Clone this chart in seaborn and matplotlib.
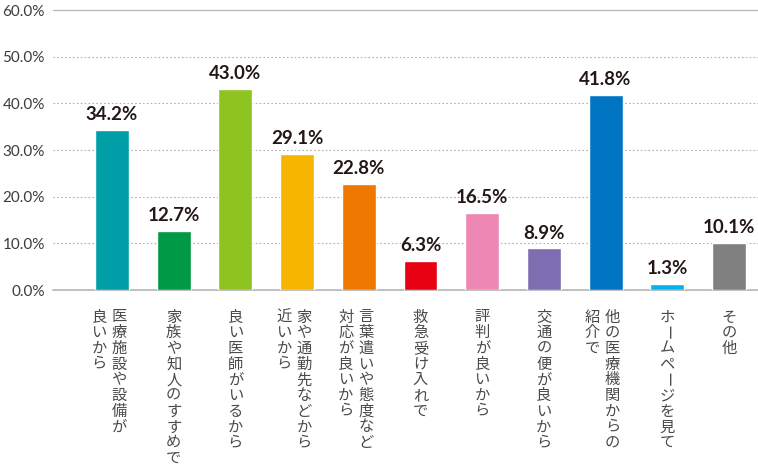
import matplotlib
matplotlib.use("Agg")
import matplotlib.pyplot as plt
import seaborn as sns
import pandas as pd

# ---- data ----
categories = [
    "医療施設や設備が\n良いから",
    "家族や知人のすすめで",
    "良い医師がいるから",
    "家や通勤先などから\n近いから",
    "言葉遣いや態度など\n対応が良いから",
    "救急受け入れで",
    "評判が良いから",
    "交通の便が良いから",
    "他の医療機関からの\n紹介で",
    "ホームページを見て",
    "その他",
]
values = [34.2, 12.7, 43.0, 29.1, 22.8, 6.3, 16.5, 8.9, 41.8, 1.3, 10.1]
colors = ["#009FA8", "#009944", "#8FC31F", "#F8B500", "#EE7800", "#E60012",
          "#EE87B4", "#7E6DB0", "#0075C2", "#00B5EE", "#808080"]
yticks = [0, 10, 20, 30, 40, 50, 60]
ytick_labels = ["0.0%", "10.0%", "20.0%", "30.0%", "40.0%", "50.0%", "60.0%"]

sns.set_theme(style="white")
plt.rcParams['font.family'] = ['Lato', 'Noto Sans CJK JP', 'DejaVu Sans']

W, H = 758, 468
fig = plt.figure(figsize=(W / 100, H / 100), dpi=100)
ax = fig.add_axes([53 / W, 178 / H, 705 / W, 280 / H])

df = pd.DataFrame({"cat": categories, "val": values})
sns.barplot(data=df, x="cat", y="val", hue="cat", palette=colors, legend=False,
            width=0.55, saturation=1, ax=ax, zorder=2)

ax.set_xlim(-0.956, 10.47)
ax.set_ylim(0, 60)
for s in ax.spines.values():
    s.set_visible(False)

# grid lines
for t in yticks:
    if t in (0, 60):
        ax.axhline(t, color="#b5b5b5", lw=1.2 if t == 0 else 0.9, zorder=1, clip_on=False)
    else:
        ax.axhline(t, color="#b0b0b0", lw=0.8, ls=(0, (1.5, 2)), zorder=1)

ax.set_yticks(yticks, ytick_labels)
ax.tick_params(axis="y", length=0, pad=6, labelsize=11, labelcolor="#3e3a39")
ax.set_xticks([])
ax.set_xlabel("")
ax.set_ylabel("")

# value labels
for i, v in enumerate(values):
    ax.annotate(f"{v:.1f}%", xy=(i, v), xytext=(0, 5), textcoords="offset points",
                ha="center", va="bottom", fontweight="bold", fontsize=13.5,
                color="#231815")

# vertical (tategaki) category labels, columns right-to-left
rotate_chars = {"ー"}
pitch = 15.7
for i, cat in enumerate(categories):
    cols = cat.split("\n")
    n = len(cols)
    for j, col in enumerate(cols):
        dx = 0 if n == 1 else 7 - 20 * j
        for k, ch in enumerate(col):
            ax.annotate(ch, xy=(i, 0), xycoords=("data", "axes fraction"),
                        xytext=(dx * 0.72, -(27 + k * pitch) * 0.72),
                        textcoords="offset points", ha="center", va="center",
                        rotation=-90 if ch in rotate_chars else 0,
                        rotation_mode="anchor",
                        fontsize=11, family=["Noto Sans CJK JP", "DejaVu Sans"],
                        color="#4a4a4a", annotation_clip=False)

fig.savefig("out.png", dpi=100)
